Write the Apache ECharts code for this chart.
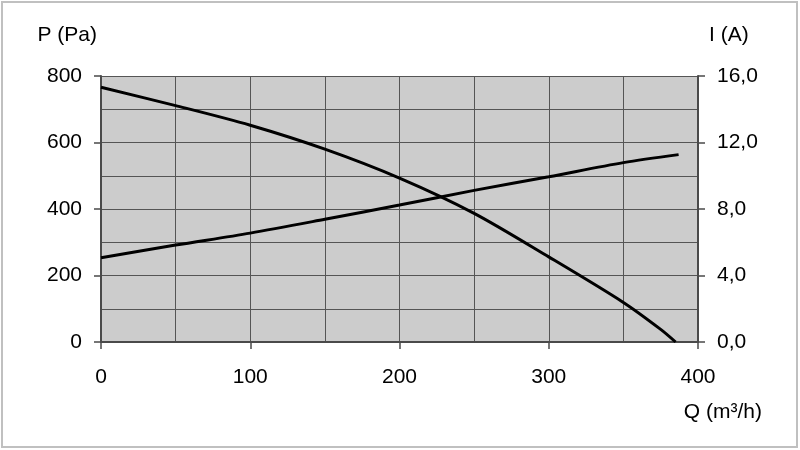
<!DOCTYPE html>
<html>
<head>
<meta charset="utf-8">
<script src="https://cdn.jsdelivr.net/npm/echarts@6/dist/echarts.min.js"></script>
<style>
html,body{margin:0;padding:0;background:#fff;}
#chart{width:800px;height:450px;}
</style>
</head>
<body>
<div id="chart"></div>
<script>
// Flow Q (m3/h) sample points
const flowP = [0, 50, 100, 150, 200, 250, 300, 350, 375, 385];
// Pressure P (Pa)
const pressure = [766, 711, 652, 580, 493, 387, 256, 119, 38, 0];
// Flow Q for current samples
const flowI = [0, 50, 100, 150, 200, 250, 300, 350, 387];
// Current I (A)
const current = [5.07, 5.83, 6.55, 7.38, 8.24, 9.12, 9.94, 10.79, 11.27];

const xTicks = [0, 100, 200, 300, 400];
const leftTicks = [0, 200, 400, 600, 800];
const rightTicks = [0, 4, 8, 12, 16];

const font = '"Liberation Sans", Arial, sans-serif';
const fs = 21;
const chart = echarts.init(document.getElementById('chart'), null, {renderer: 'canvas'});

const pData = flowP.map((q, i) => [q, pressure[i]]);
const iData = flowI.map((q, i) => [q, current[i]]);

const gridLineStyle = {color: '#555555', width: 1};

chart.setOption({
  backgroundColor: '#ffffff',
  animation: false,
  graphic: [{
    type: 'rect',
    shape: {x: 2, y: 2, width: 795, height: 445},
    style: {fill: 'none', stroke: '#c0c0c0', lineWidth: 2},
    silent: true
  }],
  grid: {
    left: 101, right: 102, top: 76, bottom: 108,
    show: true, backgroundColor: '#cccccc', borderWidth: 0
  },
  xAxis: {
    type: 'value',
    min: xTicks[0], max: xTicks[xTicks.length - 1], interval: 100,
    name: 'Q (m³/h)',
    nameLocation: 'end',
    nameGap: 64,
    nameTextStyle: {fontFamily: font, fontSize: fs, color: '#000', align: 'right', verticalAlign: 'top', padding: [60, 0, 0, 0]},
    axisLine: {show: true, lineStyle: {color: '#4a4a4a', width: 2}},
    axisTick: {show: true, inside: false, length: 7, lineStyle: {color: '#4a4a4a', width: 1.5}},
    axisLabel: {margin: 25, fontFamily: font, fontSize: fs, color: '#000'},
    splitLine: {show: true, lineStyle: gridLineStyle},
    minorTick: {show: false, splitNumber: 2},
    minorSplitLine: {show: true, lineStyle: gridLineStyle}
  },
  yAxis: [{
    type: 'value',
    position: 'left',
    min: leftTicks[0], max: leftTicks[leftTicks.length - 1], interval: 200,
    name: 'P (Pa)',
    nameLocation: 'end',
    nameGap: 30,
    nameTextStyle: {fontFamily: font, fontSize: fs, color: '#000', align: 'right', padding: [0, 4, 0, 0]},
    axisLine: {show: true, lineStyle: {color: '#4a4a4a', width: 2}},
    axisTick: {show: true, inside: false, length: 7, lineStyle: {color: '#4a4a4a', width: 1.5}},
    axisLabel: {margin: 19, fontFamily: font, fontSize: fs, color: '#000'},
    splitLine: {show: true, lineStyle: gridLineStyle},
    minorTick: {show: false, splitNumber: 2},
    minorSplitLine: {show: true, lineStyle: gridLineStyle}
  }, {
    type: 'value',
    position: 'right',
    min: rightTicks[0], max: rightTicks[rightTicks.length - 1], interval: 4,
    name: 'I (A)',
    nameLocation: 'end',
    nameGap: 30,
    nameTextStyle: {fontFamily: font, fontSize: fs, color: '#000', align: 'left', padding: [0, 0, 0, 11]},
    axisLine: {show: true, lineStyle: {color: '#4a4a4a', width: 2}},
    axisTick: {show: true, inside: false, length: 7, lineStyle: {color: '#4a4a4a', width: 1.5}},
    axisLabel: {margin: 19, fontFamily: font, fontSize: fs, color: '#000',
      formatter: v => v.toFixed(1).replace('.', ',')},
    splitLine: {show: false}
  }],
  series: [{
    type: 'line',
    name: 'P',
    yAxisIndex: 0,
    data: pData,
    smooth: 0.3,
    showSymbol: false,
    lineStyle: {color: '#000', width: 3},
    z: 5
  }, {
    type: 'line',
    name: 'I',
    yAxisIndex: 1,
    data: iData,
    smooth: 0.3,
    showSymbol: false,
    lineStyle: {color: '#000', width: 3},
    z: 5
  }]
});
</script>
</body>
</html>
